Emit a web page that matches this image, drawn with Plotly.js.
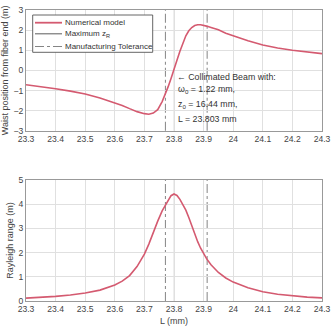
<!DOCTYPE html>
<html>
<head>
<meta charset="utf-8">
<script src="https://cdn.plot.ly/plotly-3.0.1.min.js"></script>
<style>html,body{margin:0;padding:0;background:#fff;}#chart{width:333px;height:331px;}</style>
</head>
<body>
<div id="chart"></div>
<script>
// L (mm)
var L = [23.3, 23.35, 23.4, 23.45, 23.5, 23.55, 23.6, 23.625, 23.65, 23.675, 23.7, 23.715, 23.73, 23.745, 23.76, 23.77, 23.78, 23.79, 23.8, 23.81, 23.82, 23.83, 23.84, 23.85, 23.86, 23.87, 23.88, 23.89, 23.9, 23.91, 23.925, 23.95, 23.975, 24.0, 24.05, 24.1, 24.15, 24.2, 24.25, 24.3];
// Waist position from fiber end (m)
var waist = [-0.71, -0.8, -0.91, -1.03, -1.17, -1.37, -1.6, -1.74, -1.9, -2.05, -2.15, -2.18, -2.12, -1.95, -1.55, -1.2, -0.82, -0.4, 0.0, 0.5, 0.95, 1.38, 1.72, 1.97, 2.13, 2.23, 2.27, 2.27, 2.25, 2.2, 2.13, 2.02, 1.85, 1.71, 1.47, 1.26, 1.11, 1.0, 0.91, 0.83];
// Rayleigh range (m)
var zR = [0.12, 0.15, 0.19, 0.25, 0.33, 0.45, 0.66, 0.82, 1.05, 1.42, 1.94, 2.35, 2.85, 3.3, 3.72, 3.95, 4.18, 4.35, 4.42, 4.36, 4.2, 3.97, 3.75, 3.45, 3.1, 2.75, 2.45, 2.18, 1.95, 1.75, 1.5, 1.18, 0.95, 0.78, 0.55, 0.38, 0.28, 0.21, 0.16, 0.13];
// Vertical markers
var maxZR_L = [23.8015];
var toleranceL = [23.771, 23.912];
// Tick labels
var xTickVals = [23.3, 23.4, 23.5, 23.6, 23.7, 23.8, 23.9, 24.0, 24.1, 24.2, 24.3];
var xTickText = ["23.3", "23.4", "23.5", "23.6", "23.7", "23.8", "23.9", "24", "24.1", "24.2", "24.3"];
var y1TickVals = [-3, -2, -1, 0, 1, 2, 3];
var y2TickVals = [0, 1, 2, 3, 4, 5];
var legendLabels = ["Numerical model", "Maximum z<sub>R</sub>", "Manufacturing Tolerance"];
var noteLines = ["\u2190 Collimated Beam with:", "\u03c9<sub>0</sub> = 1.22 mm,", "z<sub>0</sub> = 16.44 mm,", "L = 23.803 mm"];

var red = "#d45a70";
var fontFam = "'Liberation Sans', Arial, sans-serif";
var txtCol = "#444";

var traces = [
  {x: L, y: waist, xaxis: "x", yaxis: "y", mode: "lines", line: {color: red, width: 1.6}, name: legendLabels[0], showlegend: false},
  {x: L, y: zR, xaxis: "x2", yaxis: "y2", mode: "lines", line: {color: red, width: 1.6}, name: legendLabels[0], showlegend: false}
];

var shapes = [];
["x", "x2"].forEach(function(xr, i){
  var yr = i === 0 ? "y domain" : "y2 domain";
  toleranceL.forEach(function(v){
    shapes.push({type: "line", xref: xr, yref: yr, x0: v, x1: v, y0: 0, y1: 1, line: {color: "#777", width: 0.9, dash: "dashdot"}, layer: "below"});
  });
  maxZR_L.forEach(function(v){
    shapes.push({type: "line", xref: xr, yref: yr, x0: v, x1: v, y0: 0, y1: 1, line: {color: "#6a6a6a", width: 1.1}, layer: "below"});
  });
});

// manual legend box (paper coords)
function px2x(p){ return (p - 26) / 296; }
function py2y(p){ return (301 - p) / 291; }
shapes.push({type: "rect", xref: "paper", yref: "paper", x0: px2x(32.7), x1: px2x(152.7), y0: py2y(52.3), y1: py2y(15), line: {color: "#555", width: 0.9}, fillcolor: "#fff"});
var legY = [22.7, 33.8, 46.5];
shapes.push({type: "line", xref: "paper", yref: "paper", x0: px2x(35), x1: px2x(62), y0: py2y(legY[0]), y1: py2y(legY[0]), line: {color: red, width: 1.8}});
shapes.push({type: "line", xref: "paper", yref: "paper", x0: px2x(35), x1: px2x(62), y0: py2y(legY[1]), y1: py2y(legY[1]), line: {color: "#6a6a6a", width: 1.1}});
shapes.push({type: "line", xref: "paper", yref: "paper", x0: px2x(35), x1: px2x(62), y0: py2y(legY[2]), y1: py2y(legY[2]), line: {color: "#777", width: 0.9, dash: "dashdot"}});

var annotations = [];
legendLabels.forEach(function(t, i){
  annotations.push({xref: "paper", yref: "paper", x: px2x(63), y: py2y(legY[i]), xanchor: "left", yanchor: "middle", text: t, showarrow: false, font: {family: fontFam, size: 8, color: "#333"}});
});
var noteY = [-0.31, -0.93, -1.71, -2.42];
noteLines.forEach(function(t, i){
  annotations.push({xref: "x", yref: "y", x: i === 0 ? 23.8035 : 23.8055, y: noteY[i], xanchor: "left", yanchor: "middle", text: t, showarrow: false, font: {family: fontFam, size: 8.8, color: "#333"}});
});

var axisCommon = {
  range: [23.3, 24.3], tickvals: xTickVals, ticktext: xTickText,
  showgrid: true, gridcolor: "#e0e0e0", gridwidth: 1,
  showline: true, linecolor: "#999", linewidth: 1, mirror: true,
  ticks: "", zeroline: false,
  tickfont: {family: fontFam, size: 8.6, color: txtCol}
};

var layout = {
  width: 333, height: 331,
  margin: {l: 26, r: 11, t: 10, b: 30, pad: 0},
  paper_bgcolor: "#fff", plot_bgcolor: "#fff",
  showlegend: false,
  font: {family: fontFam, color: txtCol},
  xaxis: Object.assign({}, axisCommon, {domain: [0, 1], anchor: "y"}),
  xaxis2: Object.assign({}, axisCommon, {domain: [0, 1], anchor: "y2",
    title: {text: "L (mm)", font: {family: fontFam, size: 9, color: txtCol}, standoff: 4}}),
  yaxis: {domain: [0.585, 1], anchor: "x", range: [-3, 3], tickvals: y1TickVals,
    showgrid: true, gridcolor: "#e0e0e0", showline: true, linecolor: "#999", mirror: true, ticks: "", zeroline: false,
    tickfont: {family: fontFam, size: 8.6, color: txtCol},
    title: {text: "Waist position from fiber end (m)", font: {family: fontFam, size: 9, color: txtCol}, standoff: 3}},
  yaxis2: {domain: [0, 0.416], anchor: "x2", range: [0, 5], tickvals: y2TickVals,
    showgrid: true, gridcolor: "#e0e0e0", showline: true, linecolor: "#999", mirror: true, ticks: "", zeroline: false,
    tickfont: {family: fontFam, size: 8.6, color: txtCol},
    title: {text: "Rayleigh range (m)", font: {family: fontFam, size: 9, color: txtCol}, standoff: 3}},
  shapes: shapes,
  annotations: annotations
};

Plotly.newPlot("chart", traces, layout, {displayModeBar: false, staticPlot: true});
</script>
</body>
</html>
